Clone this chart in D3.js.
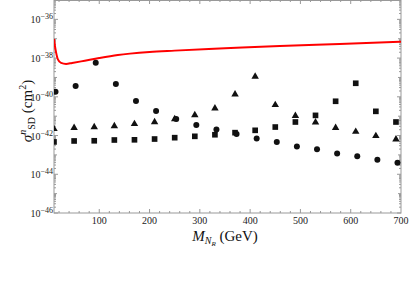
<!DOCTYPE html>
<html lang="en">
<head>
<meta charset="UTF-8">
<title>sigma SD vs M_NR</title>
<script src="https://cdn.jsdelivr.net/npm/d3@7"></script>
<style>
    body{ margin:0; background:#fff; }
    .numeros{
        font-family: "Liberation Serif", "DejaVu Serif", serif;
        font-size: 10px;
        fill: #222;
    }
    .titulo{
        font-family: "Liberation Serif", "DejaVu Serif", serif;
        font-size: 15px;
        fill: #111;
    }
    .marco{ fill:none; stroke:#999; stroke-width:1; }
    .tick{ stroke:#999; stroke-width:1; }
    .limite{ fill:none; stroke:#f00; stroke-width:2; }
    .marca{ fill:#111; }
</style>
</head>
<body>
<div id="grafico"></div>
<script>

// masses (GeV) of the benchmark points
var masses = [10, 50, 90, 130, 170, 210, 250, 290, 330, 370, 410, 450, 490, 530, 570, 610, 650, 690];
// circles sit a little to the right of the others
var massesCircles = [13, 53, 93, 133, 173, 213, 253, 293, 333, 373, 413, 453, 493, 533, 573, 613, 653, 693];

var circles = [1.82e-40, 3.63e-40, 5.75e-39, 4.57e-40, 6.03e-41, 1.86e-41, 7.08e-42, 3.47e-42, 2.04e-42,
               1.20e-42, 7.08e-43, 4.68e-43, 2.75e-43, 1.95e-43, 1.20e-43, 8.51e-44, 5.62e-44, 3.98e-44];
var triangles = [2.19e-42, 2.51e-42, 2.75e-42, 3.09e-42, 3.98e-42, 5.01e-42, 7.08e-42, 1.15e-41, 2.57e-41,
                 1.35e-40, 1.10e-39, 3.80e-41, 1.05e-41, 4.79e-42, 2.51e-42, 1.58e-42, 9.55e-43, 6.31e-43];
var squares = [4.68e-43, 5.25e-43, 5.37e-43, 5.89e-43, 6.03e-43, 6.61e-43, 7.76e-43, 9.12e-43, 1.10e-42,
               1.41e-42, 1.86e-42, 2.75e-42, 5.01e-42, 1.10e-41, 5.89e-41, 5.01e-40, 1.78e-41, 5.01e-42];

// experimental limit (red curve)
var limitMass = [10, 12, 14, 18, 24, 34, 46, 64, 100, 137, 161, 200, 250, 350, 459, 578, 700];
var limitSigma = [9.77e-38, 3.98e-38, 2.04e-38, 8.32e-39, 5.62e-39, 5.01e-39, 5.62e-39, 6.76e-39, 1.01e-38,
                  1.44e-38, 1.70e-38, 2.08e-38, 2.43e-38, 3.20e-38, 4.26e-38, 5.33e-38, 6.93e-38];

var xTicks = [100, 200, 300, 400, 500, 600, 700];
var yTicksExp = [-46, -44, -42, -40, -38, -36];

var w = 415, h = 306;
// note: "top" is taken by window.top, so plot edges get their own names
var pLeft = 54, pRight = 401, pTop = 0, pBottom = 213;

var x = d3.scaleLinear().domain([10, 700]).range([pLeft, pRight]);
var y = d3.scaleLog().domain([1e-46, 1e-35]).range([pBottom, pTop]);

var svg = d3.select("#grafico").append("svg")
    .attr("width", w)
    .attr("height", h);

svg.append("clipPath").attr("id", "recorte")
    .append("rect")
    .attr("x", pLeft).attr("y", pTop)
    .attr("width", pRight - pLeft).attr("height", pBottom - pTop);

// ticks, x
var xMinor = d3.range(20, 700, 20);
xMinor.forEach(function(d){
    var len = d % 100 === 0 ? 4 : 2;
    svg.append("line").classed("tick", true)
        .attr("x1", x(d)).attr("x2", x(d))
        .attr("y1", pBottom).attr("y2", pBottom - len);
    svg.append("line").classed("tick", true)
        .attr("x1", x(d)).attr("x2", x(d))
        .attr("y1", pTop).attr("y2", pTop + len);
});

// ticks, y (decades and log minors)
for (var e = -46; e < -35; e++) {
    var len = e % 2 === 0 ? 4 : 3;
    [pLeft, pRight].forEach(function(px){
        var dir = px === pLeft ? 1 : -1;
        svg.append("line").classed("tick", true)
            .attr("x1", px).attr("x2", px + dir * len)
            .attr("y1", y(Math.pow(10, e))).attr("y2", y(Math.pow(10, e)));
        for (var k = 2; k < 10; k++) {
            svg.append("line").classed("tick", true)
                .attr("x1", px).attr("x2", px + dir * 2)
                .attr("y1", y(k * Math.pow(10, e))).attr("y2", y(k * Math.pow(10, e)));
        }
    });
}

svg.append("rect").classed("marco", true)
    .attr("x", pLeft).attr("y", pTop + 0.5)
    .attr("width", pRight - pLeft).attr("height", pBottom - pTop - 0.5);

// tick labels
svg.selectAll(".xnum")
    .data(xTicks)
    .enter()
    .append("text")
    .classed("numeros", true)
    .attr("x", function(d){ return x(d); })
    .attr("y", pBottom + 11)
    .attr("text-anchor", "middle")
    .text(function(d){ return d; });

var yNums = svg.selectAll(".ynum")
    .data(yTicksExp)
    .enter()
    .append("text")
    .classed("numeros", true)
    .attr("x", pLeft - 1)
    .attr("y", function(d){ return y(Math.pow(10, d)) + 4; })
    .attr("text-anchor", "end");
yNums.append("tspan").text("10");
yNums.append("tspan")
    .attr("dy", -4)
    .attr("font-size", "8px")
    .text(function(d){ return "\u2212" + Math.abs(d); });

// red limit curve
var linea = d3.line()
    .x(function(d, i){ return x(limitMass[i]); })
    .y(function(d){ return y(d); })
    .curve(d3.curveMonotoneX);

var capa = svg.append("g").attr("clip-path", "url(#recorte)");

capa.append("path")
    .datum(limitSigma)
    .classed("limite", true)
    .attr("d", linea);

// points
capa.selectAll(".cuad")
    .data(squares)
    .enter()
    .append("path")
    .classed("marca", true)
    .attr("d", d3.symbol().type(d3.symbolSquare).size(32))
    .attr("transform", function(d, i){ return "translate(" + x(masses[i]) + "," + y(d) + ")"; });

capa.selectAll(".tri")
    .data(triangles)
    .enter()
    .append("path")
    .classed("marca", true)
    .attr("d", d3.symbol().type(d3.symbolTriangle).size(24))
    .attr("transform", function(d, i){ return "translate(" + x(masses[i]) + "," + y(d) + ")"; });

capa.selectAll(".circ")
    .data(circles)
    .enter()
    .append("circle")
    .classed("marca", true)
    .attr("r", 3)
    .attr("cx", function(d, i){ return x(massesCircles[i]); })
    .attr("cy", function(d){ return y(d); });

// axis titles
var xt = svg.append("text").classed("titulo", true)
    .attr("x", 225).attr("y", 241)
    .attr("text-anchor", "middle");
xt.append("tspan").attr("font-style", "italic").text("M");
xt.append("tspan").attr("font-style", "italic").attr("font-size", "10px").attr("dy", 3).text("N");
xt.append("tspan").attr("font-style", "italic").attr("font-size", "7px").attr("dy", 2).text("R");
xt.append("tspan").attr("dy", -5).text(" (GeV)");

var yt = svg.append("text").classed("titulo", true)
    .attr("transform", "translate(32,111) rotate(-90)")
    .attr("text-anchor", "middle");
yt.append("tspan").attr("font-style", "italic").text("\u03c3");
yt.append("tspan").attr("font-style", "italic").attr("font-size", "10px").attr("dy", -6).text("n");
yt.append("tspan").attr("font-size", "10px").attr("dy", 9).text("SD");
yt.append("tspan").attr("dy", -3).text(" (cm");
yt.append("tspan").attr("font-size", "10px").attr("dy", -6).text("2");
yt.append("tspan").attr("dy", 6).text(")");

</script>
</body>
</html>
